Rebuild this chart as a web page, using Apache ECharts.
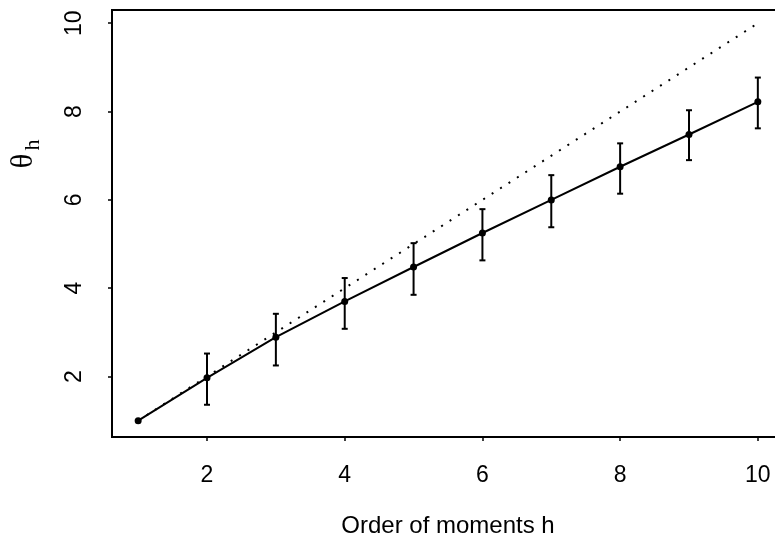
<!DOCTYPE html>
<html>
<head>
<meta charset="utf-8">
<script src="https://cdn.jsdelivr.net/npm/echarts@6/dist/echarts.min.js"></script>
<style>
  html, body { margin: 0; padding: 0; background: #fff; overflow: hidden; }
  #chart { width: 800px; height: 537px; }
</style>
</head>
<body>
<div id="chart"></div>
<script>
// Order of the moment h
const orders = [1, 2, 3, 4, 5, 6, 7, 8, 9, 10];
// Estimated exponent theta_h
const theta = [1.00, 1.97, 2.89, 3.70, 4.48, 5.25, 6.00, 6.75, 7.48, 8.22];
// Error bar bounds (h = 1 has none)
const upper = [null, 2.52, 3.42, 4.23, 5.02, 5.79, 6.56, 7.28, 8.03, 8.77];
const lower = [null, 1.36, 2.25, 3.08, 3.85, 4.63, 5.38, 6.14, 6.90, 7.62];
// Reference line theta_h = h
const refX = [1, 10];
const refY = [1, 10];
// Tick values
const xTicks = [2, 4, 6, 8, 10];
const yTicks = [2, 4, 6, 8, 10];

const chart = echarts.init(document.getElementById('chart'), null, { renderer: 'canvas' });

const mainData = orders.map((h, i) => [h, theta[i]]);
const refData = refX.map((x, i) => [x, refY[i]]);
const barData = orders
  .map((h, i) => [h, lower[i], upper[i]])
  .filter(d => d[1] !== null);

const font = '"Liberation Sans", Arial, Helvetica, sans-serif';
const serif = '"Liberation Serif", "Times New Roman", serif';

chart.setOption({
  animation: false,
  backgroundColor: '#fff',
  grid: {
    left: 112, right: 16, top: 10, bottom: 100,
    outerBoundsMode: 'none',
    containLabel: false,
    show: true, borderColor: '#000', borderWidth: 2,
    backgroundColor: 'transparent'
  },
  xAxis: {
    type: 'value', min: 0.62, max: 10.38,
    name: 'Order of moments h', nameLocation: 'middle', nameGap: 77,
    nameTextStyle: { fontFamily: font, fontSize: 24, color: '#000' },
    splitLine: { show: false },
    axisLine: { show: true, onZero: false, lineStyle: { color: '#000', width: 2 } },
    axisTick: { show: true, length: 4, lineStyle: { color: '#000', width: 1.5 }, customValues: xTicks },
    axisLabel: { customValues: xTicks, margin: 27, fontFamily: font, fontSize: 23, color: '#000' }
  },
  yAxis: {
    type: 'value', min: 0.63, max: 10.30,
    splitLine: { show: false },
    axisLine: { show: true, onZero: false, lineStyle: { color: '#000', width: 2 } },
    axisTick: { show: true, length: 4, lineStyle: { color: '#000', width: 1.5 }, customValues: yTicks },
    axisLabel: { customValues: yTicks, rotate: 90, margin: 26, fontFamily: font, fontSize: 23, color: '#000' }
  },
  graphic: [
    {
      type: 'text', x: 24, y: 161, rotation: Math.PI / 2,
      style: {
        text: 'θ', font: '31px ' + serif,
        fill: '#000', align: 'center', verticalAlign: 'middle'
      }
    },
    {
      type: 'text', x: 33, y: 145, rotation: Math.PI / 2,
      style: {
        text: 'h', font: '22px ' + serif,
        fill: '#000', align: 'center', verticalAlign: 'middle'
      }
    }
  ],
  series: [
    {
      name: 'reference',
      type: 'line',
      data: refData,
      symbol: 'none',
      lineStyle: { color: '#000', width: 2, type: [2, 8] },
      z: 2
    },
    {
      name: 'error bars',
      type: 'custom',
      data: barData,
      renderItem: function (params, api) {
        const x = api.value(0);
        const lo = api.coord([x, api.value(1)]);
        const hi = api.coord([x, api.value(2)]);
        const cap = 3;
        const style = { stroke: '#000', lineWidth: 2 };
        return {
          type: 'group',
          children: [
            { type: 'line', shape: { x1: hi[0], y1: hi[1], x2: lo[0], y2: lo[1] }, style: style },
            { type: 'line', shape: { x1: hi[0] - cap, y1: hi[1], x2: hi[0] + cap, y2: hi[1] }, style: style },
            { type: 'line', shape: { x1: lo[0] - cap, y1: lo[1], x2: lo[0] + cap, y2: lo[1] }, style: style }
          ]
        };
      },
      z: 3
    },
    {
      name: 'theta',
      type: 'line',
      data: mainData,
      symbol: 'circle',
      symbolSize: 7,
      itemStyle: { color: '#000' },
      lineStyle: { color: '#000', width: 2 },
      z: 4
    }
  ]
});
</script>
</body>
</html>
